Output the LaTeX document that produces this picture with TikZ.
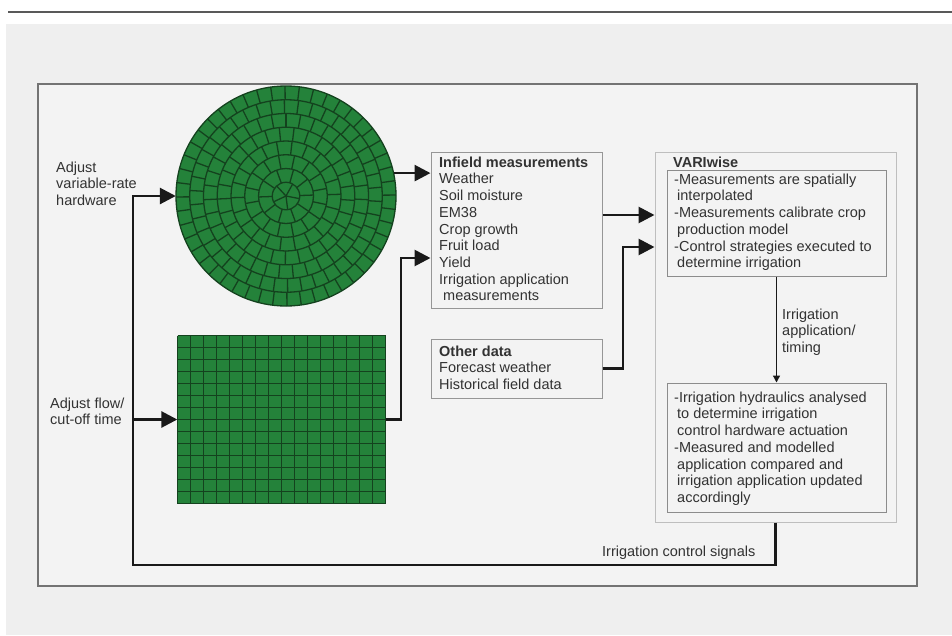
\documentclass[tikz,border=0pt]{standalone}
\usepackage{fontspec}
\setmainfont{Liberation Sans}
\usetikzlibrary{arrows.meta,calc}
\definecolor{bgc}{RGB}{239,239,239}
\definecolor{framec}{RGB}{243,243,243}
\definecolor{grn}{RGB}{36,130,58}
\definecolor{gln}{RGB}{20,66,30}
\definecolor{txtc}{RGB}{50,50,50}
\definecolor{boxc}{RGB}{150,150,150}
\definecolor{lboxc}{RGB}{190,190,190}
\newcommand{\fsz}{\fontsize{14.5}{16.7}\selectfont}
\begin{document}
\begin{tikzpicture}[x=1pt,y=-1pt,
  txt/.style={anchor=north west,inner sep=0pt,align=left,font=\fsz,text=txtc},
  boxr/.style={draw=boxc,line width=1pt,inner sep=0pt},
  lboxr/.style={draw=lboxc,line width=1pt,inner sep=0pt},
  arr/.style={draw=black!90,line width=2.8pt,-{Triangle[length=16pt,width=16pt]}},
  sarr/.style={draw=black!90,line width=1.3pt,-{Triangle[length=7pt,width=7pt]}},
  gline/.style={draw=gln,line width=1.3pt}]
\useasboundingbox (0,0) rectangle (952,635);
\fill[white] (0,0) rectangle (952,635);
\fill[bgc] (6,24) rectangle (952,635);
\draw[black!65,line width=2pt] (8,12) -- (952,12);
% frame
\draw[fill=framec,draw=black!55,line width=1.5pt] (38,84) rectangle (917,586);

% center pivot circle
\node[circle,minimum size=220pt,inner sep=0pt] (pivot) at (286,196) {};
\begin{scope}[shift={(286,196)}]
  \fill[grn] (0,0) circle (110);
  \foreach \k in {1,...,8} \draw[gline] (0,0) circle (\k*13.75);
  \foreach \k in {0,...,7} {
    \pgfmathsetmacro\rin{\k*13.75}
    \pgfmathsetmacro\rout{\k*13.75+13.75}
    \pgfmathtruncatemacro\nseg{max(5,round(2*pi*(\rin+6.9)/13.5))}
    \pgfmathsetmacro\dang{360/\nseg}
    \foreach \j in {1,...,\nseg} \draw[gline] (\j*\dang+\k*23+11:\rin) -- (\j*\dang+\k*23+11:\rout);
  }
\end{scope}

% grid field
\node[rectangle,minimum width=208pt,minimum height=168pt,inner sep=0pt] (grid) at (281.5,419.5) {};
\fill[grn] (177.5,335.5) rectangle (385.5,503.5);
\foreach \i in {0,...,16} \draw[gline] (177.5+\i*13,335.5) -- (177.5+\i*13,503.5);
\foreach \i in {0,...,14} \draw[gline] (177.5,335.5+\i*12) -- (385.5,335.5+\i*12);

% boxes
\node[boxr,minimum width=171pt,minimum height=156pt] (infield) at (516.5,230) {};
\node[boxr,minimum width=171pt,minimum height=59pt] (other) at (516.5,368.5) {};
\node[lboxr,minimum width=241pt,minimum height=370pt] (vw) at (775.5,337) {};
\node[boxr,draw=black!45,minimum width=219pt,minimum height=106pt] (in1) at (776.5,223) {};
\node[boxr,draw=black!45,minimum width=219pt,minimum height=129pt] (in2) at (776.5,447.5) {};

% coordinates
\coordinate (j1) at (401,258);
\coordinate (a1) at (610,215);
\coordinate (j2) at (623,247);
\coordinate (fb) at (133,565);

% connectors
\draw[arr] (pivot.12) -- (pivot.12 -| infield.west);
\draw[arr] (grid.east) -| (j1) -- (j1 -| infield.west);
\draw[arr] (infield.east |- a1) -- (vw.west |- a1);
\draw[arr] (other.east) -| (j2) -- (j2 -| vw.west);
\draw[sarr] (in1.south) -- (in2.north);
\draw[arr] (vw.south) |- (fb) |- (pivot.west);
\draw[arr] (fb |- grid.west) -- (grid.west);

% texts
\node[txt] (t1) at (56,161.5) {Adjust\\variable-rate\\hardware};
\node[txt] (t2) at (50,397.5) {Adjust flow/\\cut-off time};
\node[txt] (t3) at (439,156.5) {\textbf{Infield measurements}\\Weather\\Soil moisture\\EM38\\Crop growth\\Fruit load\\Yield\\Irrigation application\\\hspace{4pt}measurements};
\node[txt] (t4) at (439,345.5) {\textbf{Other data}\\Forecast weather\\Historical field data};
\node[txt] (t5) at (673,156.5) {\textbf{VARIwise}};
\node[txt] (t6) at (674,173.5) {-Measurements are spatially\\\hspace{3pt}interpolated\\-Measurements calibrate crop\\\hspace{3pt}production model\\-Control strategies executed to\\\hspace{3pt}determine irrigation};
\node[txt] (t7) at (782,308.5) {Irrigation\\application/\\timing};
\node[txt] (t8) at (674,391.5) {-Irrigation hydraulics analysed\\\hspace{3pt}to determine irrigation\\\hspace{3pt}control hardware actuation\\-Measured and modelled\\\hspace{3pt}application compared and\\\hspace{3pt}irrigation application updated\\\hspace{3pt}accordingly};
\node[txt] (t9) at (602,545.5) {Irrigation control signals};
\end{tikzpicture}
\end{document}
